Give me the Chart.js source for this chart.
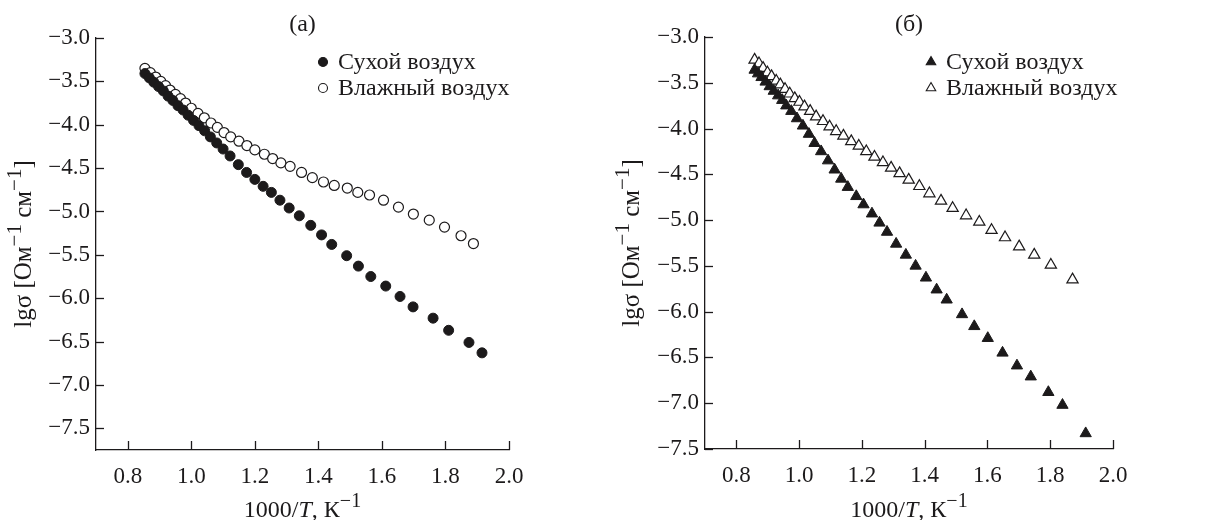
<!DOCTYPE html>
<html>
<head>
<meta charset="utf-8">
<script src="https://cdn.jsdelivr.net/npm/chart.js@4/dist/chart.umd.min.js"></script>
<style>
  html, body { margin: 0; padding: 0; background: #fff; }
  #wrap { position: relative; width: 1212px; height: 520px; }
  .panel { position: absolute; top: 0; width: 606px; height: 520px; }
</style>
</head>
<body>
<div id="wrap">
  <div class="panel" style="left:0"><canvas id="chartA"></canvas></div>
  <div class="panel" style="left:606px"><canvas id="chartB"></canvas></div>
</div>
<script>
// ---- data: lg(sigma) versus 1000/T ----
const seriesNames = ['Сухой воздух', 'Влажный воздух'];
const panelTitles = ['(а)', '(б)'];

// panel (а)
const xDryA = [0.854, 0.868, 0.882, 0.897, 0.912, 0.927, 0.942, 0.958, 0.974, 0.990,
               1.007, 1.024, 1.042, 1.060, 1.080, 1.100, 1.122, 1.148, 1.174, 1.200,
               1.226, 1.252, 1.279, 1.308, 1.340, 1.376, 1.410, 1.442, 1.489, 1.526,
               1.565, 1.612, 1.657, 1.698, 1.761, 1.810, 1.874, 1.915];
const yDryA = [-3.41, -3.46, -3.51, -3.56, -3.61, -3.67, -3.72, -3.78, -3.83, -3.89,
               -3.95, -4.01, -4.07, -4.14, -4.21, -4.28, -4.36, -4.46, -4.55, -4.63,
               -4.71, -4.78, -4.87, -4.96, -5.05, -5.16, -5.27, -5.38, -5.51, -5.63,
               -5.75, -5.86, -5.98, -6.10, -6.23, -6.37, -6.51, -6.63];
const xWetA = [0.854, 0.871, 0.888, 0.904, 0.919, 0.933, 0.950, 0.966, 0.982, 1.000,
               1.021, 1.041, 1.062, 1.082, 1.103, 1.124, 1.150, 1.175, 1.200, 1.230,
               1.256, 1.282, 1.311, 1.347, 1.381, 1.416, 1.450, 1.491, 1.524, 1.561,
               1.605, 1.652, 1.699, 1.749, 1.797, 1.849, 1.888];
const yWetA = [-3.35, -3.40, -3.45, -3.50, -3.55, -3.60, -3.65, -3.70, -3.75, -3.81,
               -3.87, -3.92, -3.98, -4.03, -4.09, -4.14, -4.19, -4.24, -4.29, -4.34,
               -4.39, -4.44, -4.48, -4.55, -4.61, -4.66, -4.70, -4.73, -4.78, -4.81,
               -4.87, -4.95, -5.03, -5.10, -5.18, -5.28, -5.37];

// panel (б)
const xDryB = [0.858, 0.869, 0.880, 0.893, 0.906, 0.919, 0.933, 0.946, 0.959, 0.975,
               0.993, 1.012, 1.031, 1.049, 1.070, 1.092, 1.113, 1.134, 1.155, 1.182,
               1.205, 1.232, 1.256, 1.280, 1.309, 1.340, 1.371, 1.404, 1.438, 1.470,
               1.519, 1.558, 1.601, 1.648, 1.694, 1.738, 1.794, 1.839, 1.913];
const yDryB = [-3.36, -3.40, -3.44, -3.49, -3.54, -3.59, -3.64, -3.69, -3.75, -3.81,
               -3.89, -3.97, -4.06, -4.16, -4.25, -4.35, -4.45, -4.55, -4.64, -4.74,
               -4.83, -4.93, -5.03, -5.13, -5.26, -5.38, -5.50, -5.63, -5.76, -5.87,
               -6.03, -6.16, -6.29, -6.45, -6.59, -6.71, -6.88, -7.02, -7.33];
const xWetB = [0.858, 0.872, 0.885, 0.899, 0.912, 0.927, 0.940, 0.955, 0.970, 0.986,
               1.001, 1.017, 1.035, 1.054, 1.076, 1.097, 1.118, 1.141, 1.166, 1.190,
               1.214, 1.240, 1.267, 1.293, 1.320, 1.349, 1.383, 1.415, 1.452, 1.489,
               1.532, 1.574, 1.613, 1.656, 1.701, 1.749, 1.802, 1.871];
const yWetB = [-3.25, -3.29, -3.34, -3.39, -3.43, -3.48, -3.52, -3.57, -3.62, -3.67,
               -3.71, -3.76, -3.81, -3.87, -3.92, -3.98, -4.03, -4.08, -4.14, -4.19,
               -4.25, -4.31, -4.37, -4.43, -4.49, -4.56, -4.63, -4.71, -4.79, -4.87,
               -4.95, -5.02, -5.11, -5.19, -5.29, -5.38, -5.49, -5.65];

// axes
const xTicks = [0.8, 1.0, 1.2, 1.4, 1.6, 1.8, 2.0];
const yTicksA = [-3.0, -3.5, -4.0, -4.5, -5.0, -5.5, -6.0, -6.5, -7.0, -7.5];
const yTicksB = [-3.0, -3.5, -4.0, -4.5, -5.0, -5.5, -6.0, -6.5, -7.0, -7.5];

// ---- styling ----
const INK = '#1c1a1b';
const FAMILY = '"Liberation Serif", "DejaVu Serif", serif';
const TICK_SIZE = 23;
const LEGEND_SIZE = 24;

const xTitleSegs = [{t: '1000/'}, {t: 'T', i: true}, {t: ', К'}, {t: '−1', s: true}];
const yTitleSegs = [{t: 'lgσ [Ом'}, {t: '−1', s: true}, {t: ' см'}, {t: '−1', s: true}, {t: ']'}];

const fmt = v => v.toFixed(1).replace('-', '−');
const pts = (xs, ys) => xs.map((x, k) => ({x, y: ys[k]}));

// mixed-style text (italic / superscript runs), centred on cx, on baseline baseY
function drawRich(ctx, segs, cx, baseY, size, vertical) {
  const fontOf = s => (s.i ? 'italic ' : '') + (s.s ? Math.round(size * 0.85) : size) + 'px ' + FAMILY;
  let total = 0;
  const widths = segs.map(s => { ctx.font = fontOf(s); const w = ctx.measureText(s.t).width; total += w; return w; });
  ctx.save();
  ctx.translate(cx, baseY);
  if (vertical) ctx.rotate(-Math.PI / 2);
  ctx.fillStyle = INK;
  ctx.textBaseline = 'alphabetic';
  ctx.textAlign = 'left';
  let x = -total / 2;
  segs.forEach((s, k) => {
    ctx.font = fontOf(s);
    ctx.fillText(s.t, x, s.s ? -size * 0.42 : 0);
    x += widths[k];
  });
  ctx.restore();
}

function marker(ctx, style, filled, x, y, r, lw) {
  ctx.save();
  ctx.beginPath();
  if (style === 'triangle') {
    for (let k = 0; k < 3; k++) {
      const a = k * 2 * Math.PI / 3;
      const px = x + Math.sin(a) * r, py = y - Math.cos(a) * r;
      k ? ctx.lineTo(px, py) : ctx.moveTo(px, py);
    }
    ctx.closePath();
  } else {
    ctx.arc(x, y, r, 0, Math.PI * 2);
  }
  ctx.fillStyle = filled ? INK : '#fff';
  ctx.strokeStyle = INK;
  ctx.lineWidth = lw;
  ctx.fill();
  ctx.stroke();
  ctx.restore();
}

// inward tick marks, panel letter, axis titles and corner legend
const decor = {
  id: 'decor',
  afterDraw(chart, args, o) {
    const {ctx, chartArea: a, scales: {x, y}} = chart;
    ctx.save();
    ctx.strokeStyle = INK;
    ctx.lineWidth = 1.3;
    x.ticks.forEach(t => {
      const px = Math.round(x.getPixelForValue(t.value)) + 0.5;
      ctx.beginPath(); ctx.moveTo(px, a.bottom); ctx.lineTo(px, a.bottom - 9); ctx.stroke();
    });
    y.ticks.forEach(t => {
      const py = Math.round(y.getPixelForValue(t.value)) + 0.5;
      ctx.beginPath(); ctx.moveTo(a.left, py); ctx.lineTo(a.left + 8, py); ctx.stroke();
    });
    ctx.restore();

    const cx = (a.left + a.right) / 2;
    drawRich(ctx, [{t: o.title}], cx, o.titleBase, 24, false);
    drawRich(ctx, xTitleSegs, cx, o.xTitleBase, 24, false);
    drawRich(ctx, yTitleSegs, o.yTitleX, (a.top + a.bottom) / 2, 25, true);

    chart.data.datasets.forEach((ds, k) => {
      const ly = a.top + o.legendTop + k * o.legendRow;
      marker(ctx, ds.pointStyle, ds.backgroundColor !== '#fff', a.left + o.legendX, ly, o.legendR, 1.1);
      ctx.save();
      ctx.font = LEGEND_SIZE + 'px ' + FAMILY;
      ctx.fillStyle = INK;
      ctx.textBaseline = 'middle';
      ctx.fillText(ds.label, a.left + o.legendX + 15, ly + 1);
      ctx.restore();
    });
  }
};

function makeChart(id, dry, wet, style, radius, yMin, yTicks, box, decorOpts) {
  return new Chart(document.getElementById(id), {
    type: 'scatter',
    data: {
      datasets: [
        {label: seriesNames[0], data: dry, pointStyle: style, pointRadius: radius,
         backgroundColor: INK, borderColor: INK, borderWidth: 1},
        {label: seriesNames[1], data: wet, pointStyle: style, pointRadius: radius,
         backgroundColor: '#fff', borderColor: INK, borderWidth: 1.2}
      ]
    },
    options: {
      responsive: true,
      maintainAspectRatio: false,
      devicePixelRatio: 1,
      animation: false,
      events: [],
      layout: {padding: {left: 0, right: box.right, top: box.top, bottom: 0}},
      plugins: {legend: {display: false}, tooltip: {enabled: false}, decor: decorOpts},
      scales: {
        x: {
          type: 'linear', min: 0.7, max: 2.0,
          afterBuildTicks: s => { s.ticks = xTicks.map(v => ({value: v})); },
          afterFit: s => { s.height = box.bottom; },
          grid: {display: false, drawTicks: false},
          border: {display: true, color: INK, width: 1.3},
          ticks: {color: INK, font: {family: FAMILY, size: TICK_SIZE}, padding: 13,
                  maxRotation: 0, autoSkip: false, callback: v => fmt(v)}
        },
        y: {
          type: 'linear', min: yMin, max: -3.0,
          afterBuildTicks: s => { s.ticks = yTicks.map(v => ({value: v})); },
          afterFit: s => { s.width = box.left; },
          grid: {display: false, drawTicks: false},
          border: {display: true, color: INK, width: 1.3},
          ticks: {color: INK, font: {family: FAMILY, size: TICK_SIZE}, padding: 6,
                  autoSkip: false, callback: v => fmt(v)}
        }
      }
    },
    plugins: [decor]
  });
}

makeChart('chartA', pts(xDryA, yDryA), pts(xWetA, yWetA), 'circle', 5, -7.75, yTicksA,
  {left: 96, right: 97, top: 38, bottom: 70},
  {title: panelTitles[0], titleBase: 31, xTitleBase: 517, yTitleX: 31,
   legendX: 227, legendTop: 24, legendRow: 26, legendR: 4.5});

makeChart('chartB', pts(xDryB, yDryB), pts(xWetB, yWetB), 'triangle', 6.5, -7.5, yTicksB,
  {left: 99, right: 99, top: 37, bottom: 71},
  {title: panelTitles[1], titleBase: 31, xTitleBase: 517, yTitleX: 33,
   legendX: 226, legendTop: 25, legendRow: 26, legendR: 5.5});
</script>
</body>
</html>
